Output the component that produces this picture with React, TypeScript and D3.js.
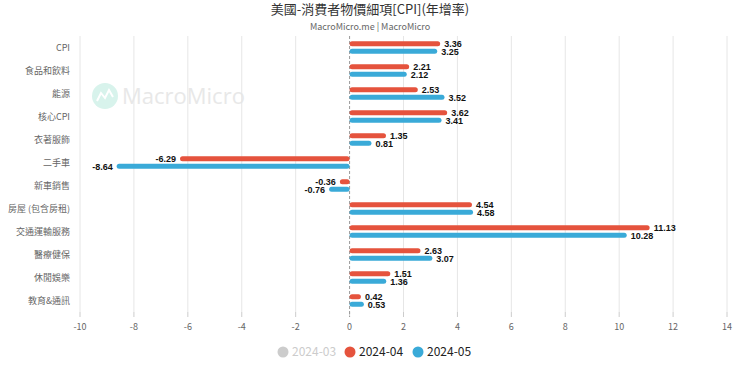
import React from "react";
import * as d3 from "d3";

const categories = ["CPI", "食品和飲料", "能源", "核心CPI", "衣著服飾", "二手車", "新車銷售", "房屋 (包含房租)", "交通運輸服務", "醫療健保", "休閒娛樂", "教育&通訊"];
const apr = [3.36, 2.21, 2.53, 3.62, 1.35, -6.29, -0.36, 4.54, 11.13, 2.63, 1.51, 0.42];
const may = [3.25, 2.12, 3.52, 3.41, 0.81, -8.64, -0.76, 4.58, 10.28, 3.07, 1.36, 0.53];
const xTicks = [-10, -8, -6, -4, -2, 0, 2, 4, 6, 8, 10, 12, 14];
const legendItems = [
  { name: "2024-03", color: "#cccccc", text: "#cccccc" },
  { name: "2024-04", color: "#e5533d", text: "#222" },
  { name: "2024-05", color: "#3aaad8", text: "#222" },
];

const W = 740, H = 365;
const FONT = "'Noto Sans CJK TC', 'Noto Sans', sans-serif";

export default function App() {
  const x = d3.scaleLinear().domain([-10, 14]).range([80, 727]);
  const y = d3.scaleBand<string>().domain(categories).range([36, 312]);
  const barH = 5;
  const series = [
    { vals: apr, color: "#e5533d", off: -barH - 1.2 },
    { vals: may, color: "#3aaad8", off: 1.2 },
  ];
  return (
    <svg width={W} height={H} style={{ position: "absolute", left: 0, top: 0, fontFamily: FONT }}>
      <rect width={W} height={H} fill="#fff" />
      <text x={370} y={14} textAnchor="middle" fontSize={13} fill="#333">美國-消費者物價細項[CPI](年增率)</text>
      <text x={370} y={30} textAnchor="middle" fontSize={9} fill="#666">MacroMicro.me | MacroMicro</text>
      {/* watermark */}
      <circle cx={105} cy={96} r={13} fill="#d8f3ec" />
      <path d="M97,101 L101,93 L105,98 L109,90 L113,97" fill="none" stroke="#fff" strokeWidth={2} />
      <text x={122} y={104} fontSize={22} fill="#e8e8e8" fontFamily="'Open Sans', sans-serif">MacroMicro</text>
      {xTicks.map((t) => (
        <g key={t}>
          {t !== 0 && <line x1={x(t)} x2={x(t)} y1={36} y2={312} stroke="#e6e6e6" />}
          <line x1={x(t)} x2={x(t)} y1={312} y2={317} stroke="#ccc" />
          <text x={x(t)} y={330} textAnchor="middle" fontSize={9} fill="#666">{t}</text>
        </g>
      ))}
      <line x1={x(0)} x2={x(0)} y1={36} y2={317} stroke="#999" strokeDasharray="3,2" />
      {categories.map((c) => (
        <text key={c} x={70} y={(y(c) as number) + y.bandwidth() / 2 + 3} textAnchor="end" fontSize={9} fill="#666">{c}</text>
      ))}
      {series.map((s, si) =>
        categories.map((c, i) => {
          const v = s.vals[i];
          const x0 = x(Math.min(0, v)), x1 = x(Math.max(0, v));
          const yc = (y(c) as number) + y.bandwidth() / 2 + s.off;
          const lx = v >= 0 ? x1 + 4 : x0 - 4;
          return (
            <g key={si + "-" + c}>
              <rect x={x0} y={yc} width={Math.max(x1 - x0, 1)} height={barH} rx={2.5} fill={s.color} />
              <text x={lx} y={yc + barH / 2 + 3.3} textAnchor={v >= 0 ? "start" : "end"} fontSize={9} fontWeight="bold" fill="#111"
                fontFamily="'Liberation Sans', Arial, sans-serif">{v.toFixed(2)}</text>
            </g>
          );
        })
      )}
      {legendItems.map((l, i) => {
        const cx = [283, 350, 418][i];
        return (
          <g key={l.name}>
            <circle cx={cx} cy={352} r={5.5} fill={l.color} />
            <text x={cx + 9} y={356} fontSize={12} fill={l.text}>{l.name}</text>
          </g>
        );
      })}
    </svg>
  );
}
